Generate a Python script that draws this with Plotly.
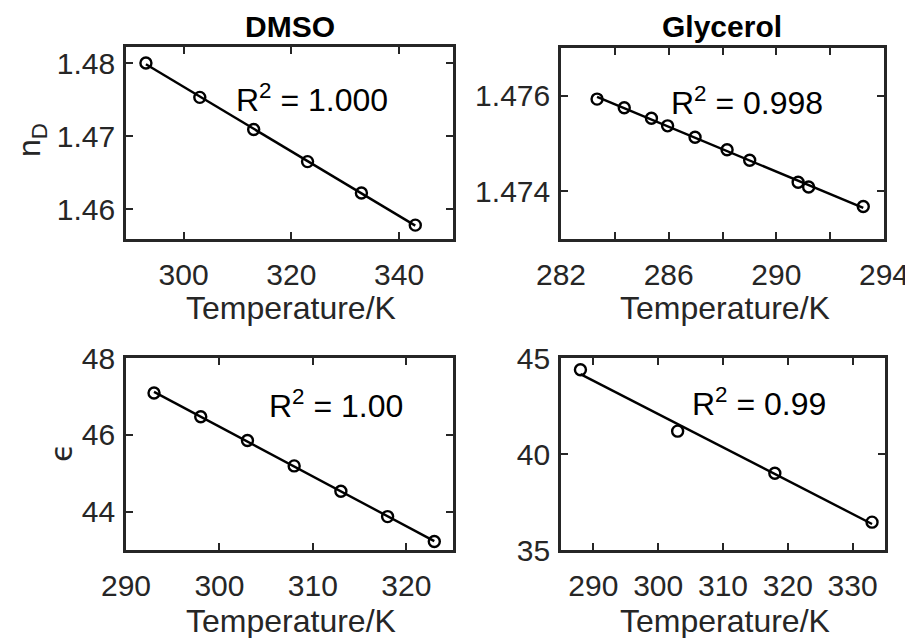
import numpy as np
import plotly.graph_objects as go

# ---- data ----
dmso_nd_T = [293, 303, 313, 323, 333, 343]
dmso_nd = [1.4800, 1.4753, 1.4709, 1.4665, 1.4622, 1.4578]

gly_nd_T = [283.34, 284.35, 285.36, 285.96, 286.98, 288.17, 289.01, 290.81, 291.20, 293.23]
gly_nd = [1.47593, 1.47575, 1.47553, 1.47537, 1.47513, 1.47487, 1.47465, 1.47419, 1.47409, 1.47368]

dmso_eps_T = [293, 298, 303, 308, 313, 318, 323]
dmso_eps = [47.09, 46.47, 45.85, 45.19, 44.53, 43.87, 43.22]

gly_eps_T = [288, 303, 318, 333]
gly_eps = [44.39, 41.19, 39.00, 36.45]

r2_labels = ["1.000", "0.998", "1.00", "0.99"]
titles = ["DMSO", "Glycerol"]

FONT = "Liberation Sans, Arial, Helvetica, sans-serif"
TXT = "#262626"
OFF = 8  # page body margin
W, H = 913 - OFF, 638 - OFF


def fx(px):
    return (px - OFF) / W


def fy(py):
    return 1 - (py - OFF) / H


fig = go.Figure()

panels = [
    dict(x=dmso_nd_T, y=dmso_nd, xa="x", ya="y", xd=[126, 453], yd=[47, 239],
         xr=[289.3, 350], yr=[1.4559, 1.4822], xt=[300, 320, 340], yt=[1.46, 1.47, 1.48],
         ytt=["1.46", "1.47", "1.48"], r2=(323.9, 1.4752)),
    dict(x=gly_nd_T, y=gly_nd, xa="x2", ya="y2", xd=[561, 884], yd=[48, 239],
         xr=[282, 294], yr=[1.473, 1.477], xt=[282, 286, 290, 294], yt=[1.474, 1.476],
         ytt=["1.474", "1.476"], r2=(288.9, 1.47588), minor=[284, 288, 292]),
    dict(x=dmso_eps_T, y=dmso_eps, xa="x3", ya="y3", xd=[126, 453], yd=[358, 550],
         xr=[290, 325], yr=[43, 48], xt=[290, 300, 310, 320], yt=[44, 46, 48],
         ytt=["44", "46", "48"], r2=(312.5, 46.79)),
    dict(x=gly_eps_T, y=gly_eps, xa="x4", ya="y4", xd=[561, 885], yd=[358, 550],
         xr=[285, 335], yr=[35, 45], xt=[290, 300, 310, 320, 330], yt=[35, 40, 45],
         ytt=["35", "40", "45"], r2=(315.6, 42.72)),
]

annotations = []
for i, p in enumerate(panels):
    xs = np.array(p["x"], dtype=float)
    ys = np.array(p["y"], dtype=float)
    m, b = np.polyfit(xs, ys, 1)
    xl = np.array([xs.min(), xs.max()])
    fig.add_trace(go.Scatter(x=xl, y=m * xl + b, mode="lines",
                             line=dict(color="black", width=2.4),
                             xaxis=p["xa"], yaxis=p["ya"], showlegend=False))
    fig.add_trace(go.Scatter(x=xs, y=ys, mode="markers",
                             marker=dict(symbol="circle-open", size=11, color="black",
                                         line=dict(width=2.4, color="black")),
                             xaxis=p["xa"], yaxis=p["ya"], showlegend=False))
    n = "" if i == 0 else str(i + 1)
    axcommon = dict(showline=True, linecolor=TXT, linewidth=2.6, mirror="ticks",
                    ticks="inside", ticklen=7, tickwidth=2.2, tickcolor=TXT,
                    showgrid=False, zeroline=False, automargin=False,
                    ticklabeloverflow="allow",
                    tickfont=dict(family=FONT, size=30, color=TXT))
    xaxis = dict(axcommon, domain=[fx(p["xd"][0]), fx(p["xd"][1])], range=p["xr"],
                 tickvals=p["xt"], ticktext=[str(v) for v in p["xt"]],
                 anchor="y" + n, ticklabelstandoff=7)
    if p.get("minor"):
        xaxis["minor"] = dict(tickvals=p["minor"], ticks="inside", ticklen=7,
                              tickwidth=2.2, tickcolor=TXT, showgrid=False)
    yaxis = dict(axcommon, domain=[fy(p["yd"][1]), fy(p["yd"][0])], range=p["yr"],
                 tickvals=p["yt"], ticktext=p["ytt"], anchor="x" + n, ticklabelstandoff=2)
    fig.layout["xaxis" + n] = xaxis
    fig.layout["yaxis" + n] = yaxis
    annotations.append(dict(x=p["r2"][0], y=p["r2"][1], xref=p["xa"], yref=p["ya"],
                            text="R<sup>2</sup> = " + r2_labels[i], showarrow=False,
                            font=dict(family=FONT, size=32, color="black"),
                            xanchor="center", yanchor="middle"))


def ptxt(x, y, text, size=32, bold=False, angle=0, family=FONT):
    t = "<b>" + text + "</b>" if bold else text
    return dict(x=fx(x), y=fy(y), xref="paper", yref="paper", text=t, showarrow=False,
                textangle=angle, xanchor="center", yanchor="middle", borderpad=0,
                font=dict(family=family, size=size, color="black" if bold else TXT))


annotations += [
    ptxt(290, 26, titles[0], 30, True),
    ptxt(722, 26, titles[1], 30, True),
    ptxt(291, 308, "Temperature/K"),
    ptxt(725, 308, "Temperature/K"),
    ptxt(291, 621, "Temperature/K"),
    ptxt(725, 621, "Temperature/K"),
    ptxt(31, 140, "n<sub>D</sub>", 32, False, -90),
    ptxt(61, 453, "ϵ", 30, False, -90, "DejaVu Sans, sans-serif"),
]

fig.update_layout(width=W, height=H, margin=dict(l=0, r=0, t=0, b=0),
                  paper_bgcolor="white", plot_bgcolor="white",
                  annotations=annotations, showlegend=False)

fig.write_html("out.html")
